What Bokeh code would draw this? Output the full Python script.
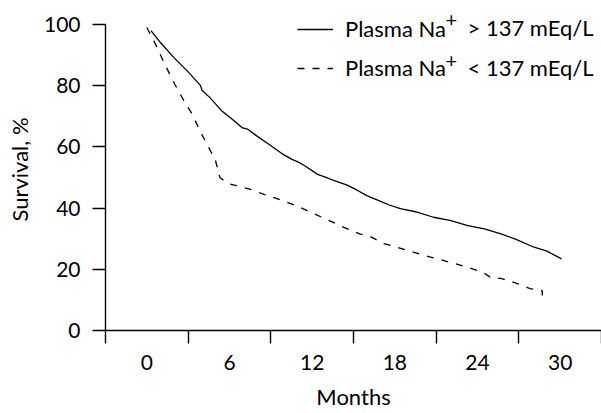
from bokeh.plotting import figure
from bokeh.models import FixedTicker, Legend, LegendItem, Range1d, Label
from bokeh.embed import file_html
from bokeh.resources import INLINE

# Data (months, survival %)
high_na_months = [0.3, 1, 2, 3, 3.9, 4.0, 4.6, 5.4, 6.2, 6.9, 7.3, 8.0, 8.8, 9.8, 10.5, 11.0, 11.4,
                  12.4, 13.0, 13.6, 14.5, 15.2, 16.0, 16.8, 17.6, 18.4, 19.5, 20.8, 22.0, 23.3,
                  24.5, 25.7, 26.8, 28.1, 29.0, 30.1]
high_na_surv = [98, 94, 89, 84.5, 80, 78.5, 76, 71.9, 69, 66.3, 65.8, 63.5, 61, 57.8, 56, 55, 54,
                51, 50, 49, 47.6, 46, 44, 42.5, 41, 39.8, 38.8, 37, 36, 34.3,
                33.2, 31.6, 29.8, 27.2, 26, 23.4]

low_na_months = [0, 0.6, 1.3, 2.0, 2.7, 3.25, 4.0, 4.7, 4.9, 5.3, 5.9, 6.5, 7.4, 8.5, 9.8, 11.0,
                 12.1, 13.2, 14.3, 15.5, 16.3, 17.2, 18.3, 19.4, 20.6, 22.0, 23.2, 24.4, 25.0,
                 25.7, 26.8, 27.8, 28.7, 28.7]
low_na_surv = [99, 93.8, 87, 80.7, 75, 71, 64, 58, 57, 50, 48, 47.3, 46.3, 44.5, 42.5, 40.5,
               38.2, 36, 33.7, 31.5, 30.5, 28.4, 27, 25.5, 24, 22.3, 20.8, 19, 17.2,
               17, 15.5, 13.7, 13, 11.4]

x_tick_labels = [0, 6, 12, 18, 24, 30]
x_minor = [-3, 3, 9, 15, 21, 27, 33]
y_ticks = [0, 20, 40, 60, 80, 100]
label_head = "Plasma Na"
label_sup = "+"
label_tails = ["> 137 mEq/L", "< 137 mEq/L"]

FONT = "Lato"

p = figure(width=601, height=413, output_backend="svg", toolbar_location=None,
           x_range=Range1d(-3, 33), y_range=Range1d(0, 105.2),
           min_border_left=105, min_border_right=0, min_border_top=8, min_border_bottom=83)
p.outline_line_color = None
p.xgrid.visible = False
p.ygrid.visible = False

r1 = p.line(high_na_months, high_na_surv, line_color="black", line_width=1.3)
r2 = p.line(low_na_months, low_na_surv, line_color="black", line_width=1.3, line_dash="7 8")

xa = p.xaxis[0]
xa.ticker = FixedTicker(ticks=x_tick_labels, minor_ticks=x_minor)
xa.major_tick_out = 0
xa.major_tick_in = 0
xa.minor_tick_out = 13
xa.minor_tick_in = 0
xa.minor_tick_line_color = "black"
xa.minor_tick_line_width = 1.4
xa.major_label_standoff = 11
xa.axis_label = "Months"
xa.axis_label_standoff = 10

ya = p.yaxis[0]
ya.ticker = FixedTicker(ticks=y_ticks, minor_ticks=[])
ya.bounds = (0, 100)
ya.major_tick_out = 13
ya.major_tick_in = 0
ya.major_label_standoff = 12
ya.axis_label = "Survival, %"
ya.axis_label_standoff = 8

for ax in (xa, ya):
    ax.axis_line_color = "black"
    ax.axis_line_width = 1.4
    ax.major_tick_line_color = "black"
    ax.major_tick_line_width = 1.4
    ax.major_label_text_font = FONT
    ax.major_label_text_font_size = "21px"
    ax.major_label_text_color = "black"
    ax.major_label_text_line_height = 1.0
    ax.axis_label_text_font = FONT
    ax.axis_label_text_font_size = "22px"
    ax.axis_label_text_font_style = "normal"
    ax.axis_label_text_color = "black"
    ax.axis_label_text_line_height = 1.0

legend = Legend(items=[LegendItem(label=label_head, renderers=[r1]),
                       LegendItem(label=label_head, renderers=[r2])],
                location=(192, 249), glyph_width=36, glyph_height=20, label_height=20,
                label_standoff=12, padding=0, margin=0, spacing=12,
                border_line_color=None, background_fill_alpha=0,
                label_text_font=FONT, label_text_font_size="22px", label_text_color="black",
                label_text_baseline="middle")
p.add_layout(legend)

# superscript "+" and the rest of each legend label (screen px relative to the plot frame)
row_y = [303, 263]
sup_y = [311, 270]
for yy, sy, tail in zip(row_y, sup_y, label_tails):
    p.add_layout(Label(x=340, y=sy, x_units="screen", y_units="screen", text=label_sup,
                       text_font=FONT, text_font_size="20px", text_baseline="middle",
                       text_color="black"))
    p.add_layout(Label(x=362, y=yy, x_units="screen", y_units="screen", text=tail,
                       text_font=FONT, text_font_size="22px", text_baseline="middle",
                       text_color="black"))

open("out.html", "w").write(file_html(p, INLINE))
